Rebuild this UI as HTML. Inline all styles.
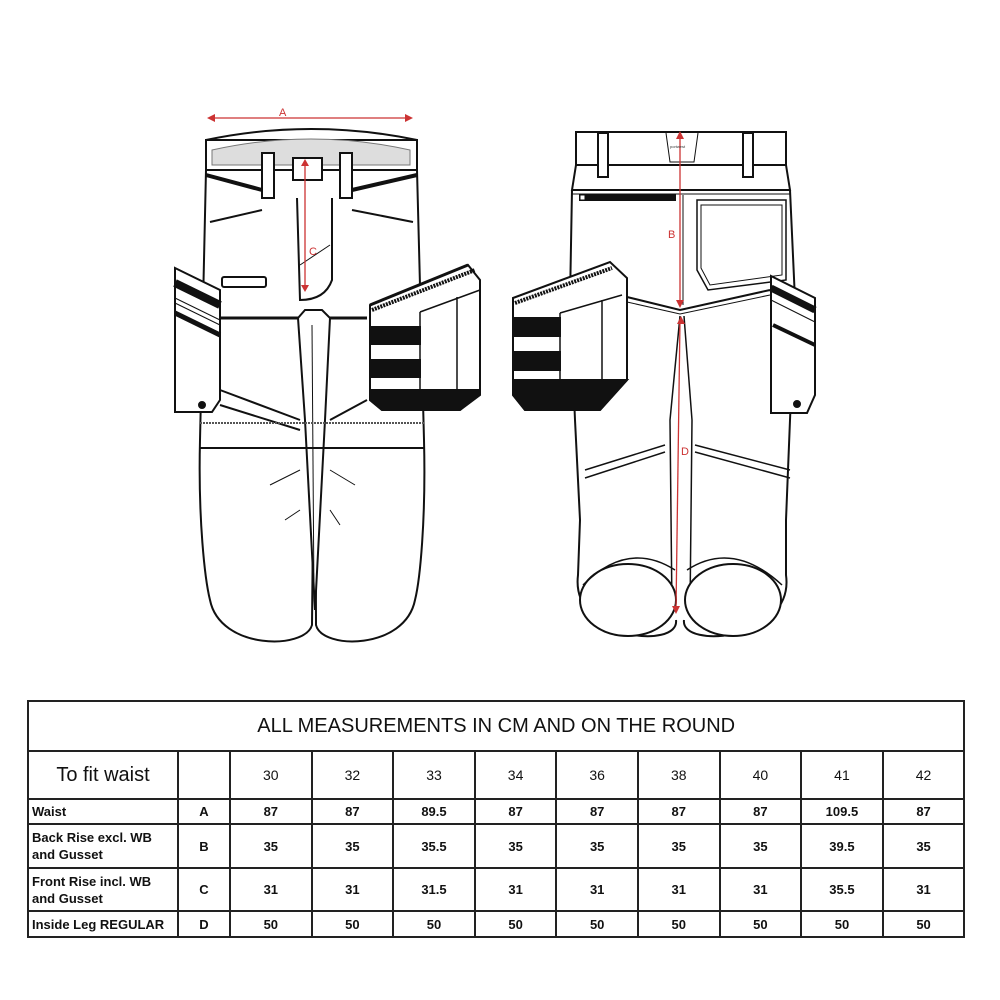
<!DOCTYPE html>
<html><head><meta charset="utf-8"><style>
body{margin:0;background:#fff;width:1000px;height:1000px;overflow:hidden;font-family:"Liberation Sans",sans-serif}
svg{position:absolute;left:0;top:0}
table{position:absolute;left:27px;top:700px;border-collapse:collapse;font-family:"Liberation Sans",sans-serif}
td{border:2px solid #222;text-align:center;padding:0;color:#111}
.b td{font-weight:bold;font-size:13px}
.l{text-align:left;padding-left:3px;line-height:17px}
</style></head><body>
<svg width="1000" height="700" viewBox="0 0 1000 700" fill="none" stroke="#111" stroke-width="2">
<!-- FRONT -->
<path d="M206,140 Q311,118 417,140" />
<rect x="206" y="140" width="211" height="30" fill="#fff"/>
<path d="M212,150 Q311,128 410,150 L410,165 L212,165Z" fill="#ddd" stroke="#777" stroke-width="1"/>
<rect x="262" y="153" width="12" height="45" fill="#fff"/><rect x="340" y="153" width="12" height="45" fill="#fff"/>
<rect x="293" y="158" width="29" height="22" fill="#fff"/>
<path d="M206,170 L200,440 C198,520 205,580 210,600 C220,650 305,650 312,625 L315,320"/>
<path d="M417,170 L424,440 C426,520 420,580 415,600 C405,650 322,650 316,625 L315,320"/>
<path d="M206,175 L262,190 M352,190 L417,175" stroke-width="4"/>
<path d="M210,222 L262,210 M352,210 L413,222"/>
<path d="M297,198 L300,300 Q325,300 332,280 L332,198"/>
<path d="M300,265 L330,245" stroke-width="1"/>
<rect x="222" y="277" width="44" height="10" rx="2"/>
<path d="M220,318 L367,318" stroke-width="3"/>
<path d="M298,318 L305,310 L322,310 L330,318 L325,420 L315,610 L305,420Z" fill="#fff"/>
<path d="M312,325 L314,600" stroke-width="1"/>
<path d="M220,390 L300,420 M330,420 L367,400 M220,405 L300,430"/>
<path d="M200,423 L424,423" stroke-dasharray="2 1" stroke="#555"/>
<path d="M200,448 L424,448"/>
<path d="M270,485 L300,470 M330,470 L355,485 M285,520 L300,510 M330,510 L340,525" stroke-width="1"/>
<!-- left small pocket -->
<path d="M175,268 L220,290 L220,400 L212,412 L175,412Z" fill="#fff"/>
<path d="M175,283 L220,305" stroke-width="8"/><path d="M175,298 L220,320 M175,303 L220,325" stroke-width="1"/>
<path d="M175,313 L220,335" stroke-width="5"/>
<circle cx="202" cy="405" r="3" fill="#111"/>
<!-- right big pocket -->
<path d="M370,305 L468,265 L480,280 L480,390 L460,410 L382,410 L370,400Z" fill="#fff"/>
<path d="M370,305 L468,265" stroke-width="3"/><path d="M372,310 L475,270" stroke-width="4" stroke-dasharray="2 1"/>
<path d="M420,312 L480,290 M420,312 L420,390 M457,297 L457,390" stroke-width="1.5"/>
<rect x="372" y="327" width="48" height="17" fill="#111"/>
<rect x="372" y="360" width="48" height="17" fill="#111"/>
<path d="M370,390 L480,390 L480,395 L460,410 L382,410 L370,400Z" fill="#111"/>
<!-- A, C arrows -->
<g stroke="#c33" stroke-width="1.3" fill="#c33">
<line x1="209" y1="118" x2="411" y2="118"/>
<path d="M207,118 L215,114 L215,122Z M413,118 L405,114 L405,122Z" stroke="none"/>
<line x1="305" y1="162" x2="305" y2="290"/>
<path d="M305,159 L301,166 L309,166Z M305,292 L301,285 L309,285Z" stroke="none"/>
</g>
<text x="279" y="116" fill="#c33" stroke="none" font-size="11">A</text>
<text x="309" y="255" fill="#c33" stroke="none" font-size="11">C</text>
<!-- BACK -->
<rect x="576" y="132" width="210" height="33" fill="#fff"/>
<rect x="598" y="133" width="10" height="44" fill="#fff"/><rect x="743" y="133" width="10" height="44" fill="#fff"/>
<path d="M666,133 L670,162 L694,162 L698,133" stroke-width="1"/>
<path d="M576,165 L572,190 L790,190 L786,165"/>
<path d="M572,194 L790,194" stroke-width="1"/>
<path d="M572,190 L570,300 L575,420 L580,520 L578,575 C570,640 680,650 676,620"/>
<path d="M790,190 L795,300 L790,420 L786,520 L786,575 C795,640 680,650 684,620"/>
<path d="M580,195 L675,195 L675,200 L580,200Z" fill="#111"/><rect x="580" y="195" width="5" height="5" fill="#fff" stroke-width="1"/>
<path d="M683,195 L683,305" stroke-width="1"/>
<path d="M697,200 L786,200 L786,280 L708,290 L697,270Z" fill="#fff" stroke-width="1.5"/>
<path d="M701,205 L782,205 L782,275 L710,285 L701,268Z" stroke-width="1"/>
<path d="M627,297 L680,310 L770,290"/><path d="M627,302 L680,314 L770,295" stroke-width="1"/>
<path d="M680,316 L670,420 L672,610 M684,316 L692,420 L690,610" stroke-width="1.5"/>
<path d="M585,470 L665,445 M695,445 L790,470 M585,478 L665,452 M695,452 L790,478" stroke-width="1.5"/>
<ellipse cx="628" cy="600" rx="48" ry="36" fill="#fff"/>
<ellipse cx="733" cy="600" rx="48" ry="36" fill="#fff"/>
<path d="M583,585 Q628,540 675,570 M687,570 Q733,540 782,585" stroke-width="1.5"/>
<!-- back left big pocket -->
<path d="M513,298 L610,262 L627,278 L627,380 L600,410 L525,410 L513,395Z" fill="#fff"/>
<path d="M515,303 L612,268" stroke-width="4" stroke-dasharray="2 1"/>
<path d="M560,313 L622,295 M560,313 L560,390 M602,300 L602,390" stroke-width="1.5"/>
<rect x="515" y="318" width="45" height="18" fill="#111"/>
<rect x="515" y="352" width="45" height="18" fill="#111"/>
<path d="M513,380 L627,380 L600,410 L525,410 L513,395Z" fill="#111"/>
<!-- back right small pocket -->
<path d="M771,276 L815,298 L815,395 L807,413 L771,413Z" fill="#fff"/>
<path d="M771,288 L815,310" stroke-width="7"/><path d="M771,300 L815,322" stroke-width="1"/>
<path d="M773,325 L815,345" stroke-width="4"/>
<circle cx="797" cy="404" r="3" fill="#111"/>
<!-- B, D arrows -->
<g stroke="#c33" stroke-width="1.3" fill="#c33">
<line x1="680" y1="135" x2="680" y2="305"/>
<path d="M680,131 L676,139 L684,139Z M680,308 L676,300 L684,300Z" stroke="none"/>
<line x1="680" y1="320" x2="676" y2="610"/>
<path d="M681,316 L677,324 L685,324Z M676,614 L672,606 L680,606Z" stroke="none"/>
</g>
<text x="668" y="238" fill="#c33" stroke="none" font-size="11">B</text>
<text x="681" y="455" fill="#c33" stroke="none" font-size="11">D</text>
<text x="670" y="148" fill="#333" stroke="none" font-size="4">portwest</text>
</svg>
<table>
<colgroup><col style="width:150px"><col style="width:52px"><col span="9" style="width:81.6px"></colgroup>
<tr style="height:50px"><td colspan="11" style="font-size:20px;border-bottom:2px solid #222">ALL MEASUREMENTS IN CM AND ON THE ROUND</td></tr>
<tr style="height:48px;font-size:14px"><td style="font-size:20px">To fit waist</td><td></td><td>30</td><td>32</td><td>33</td><td>34</td><td>36</td><td>38</td><td>40</td><td>41</td><td>42</td></tr>
<tr class="b" style="height:25px"><td class="l">Waist</td><td>A</td><td>87</td><td>87</td><td>89.5</td><td>87</td><td>87</td><td>87</td><td>87</td><td>109.5</td><td>87</td></tr>
<tr class="b" style="height:44px"><td class="l">Back Rise excl. WB and Gusset</td><td>B</td><td>35</td><td>35</td><td>35.5</td><td>35</td><td>35</td><td>35</td><td>35</td><td>39.5</td><td>35</td></tr>
<tr class="b" style="height:43px"><td class="l">Front Rise incl. WB and Gusset</td><td>C</td><td>31</td><td>31</td><td>31.5</td><td>31</td><td>31</td><td>31</td><td>31</td><td>35.5</td><td>31</td></tr>
<tr class="b" style="height:26px"><td class="l">Inside Leg REGULAR</td><td>D</td><td>50</td><td>50</td><td>50</td><td>50</td><td>50</td><td>50</td><td>50</td><td>50</td><td>50</td></tr>
</table>
</body></html>
